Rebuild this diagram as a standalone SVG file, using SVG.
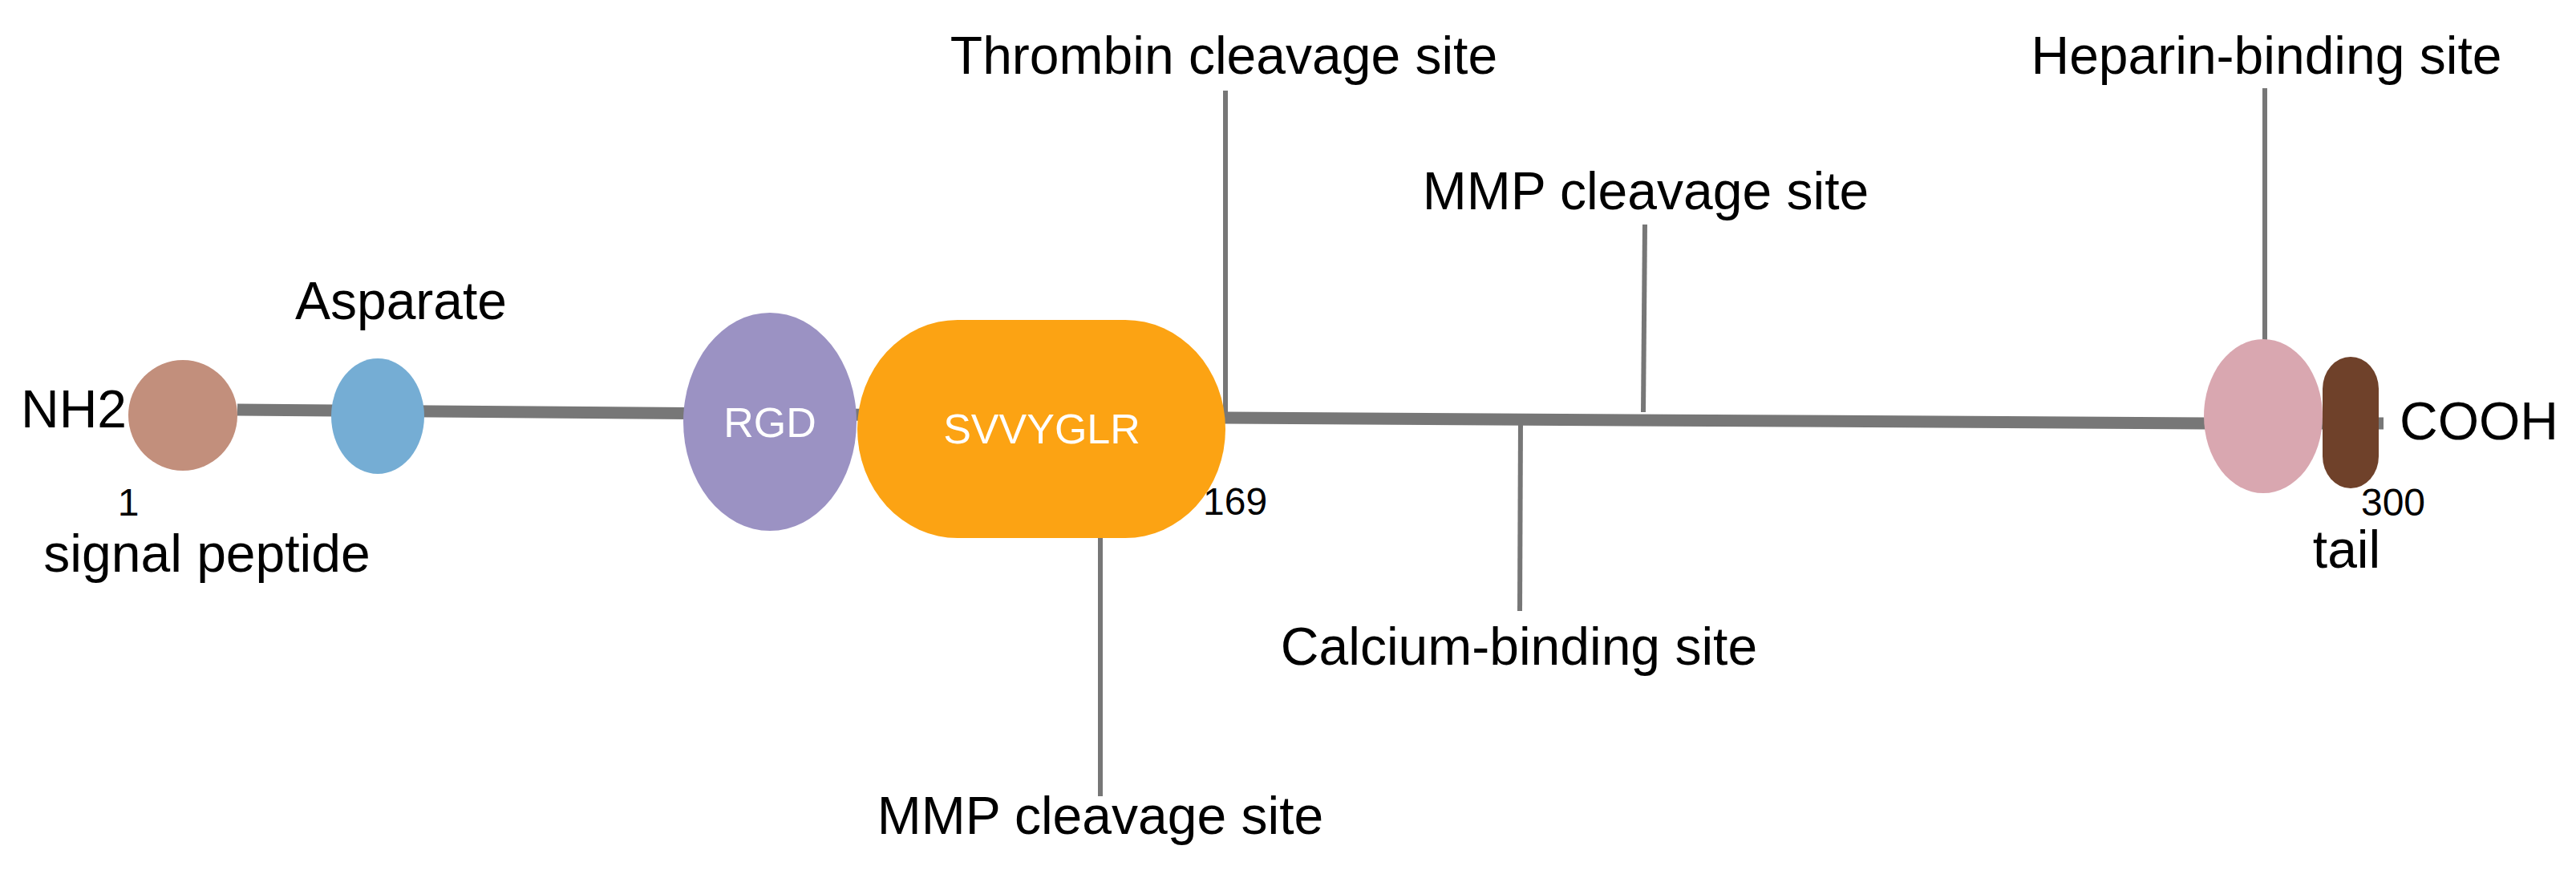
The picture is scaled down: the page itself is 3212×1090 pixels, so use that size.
<svg xmlns="http://www.w3.org/2000/svg" width="3212" height="1090" viewBox="0 0 3212 1090">
<style>
text{font-family:"Liberation Sans",Arial,sans-serif;fill:#000}
.lbl{font-size:66px}
.num{font-size:48px}
.in{font-size:52px;fill:#fff}
.tick{stroke:#777;stroke-width:6;fill:none}
.bb{stroke:#777;stroke-width:15;fill:none}
</style>
<rect width="3212" height="1090" fill="#fff"/>
<g id="connectors">
<polyline class="bb" points="296,511 1528,521 2750,528 2972,528"/>
<line class="tick" x1="1528" y1="113" x2="1528" y2="521"/>
<line class="tick" x1="2051" y1="280" x2="2049" y2="514"/>
<line class="tick" x1="1896" y1="526" x2="1895" y2="762"/>
<line class="tick" x1="1372" y1="671" x2="1372" y2="993"/>
<line class="tick" x1="2824" y1="110" x2="2824" y2="425"/>
</g>
<g id="signal"><ellipse cx="228" cy="518" rx="68" ry="69" fill="#c28f7c"/>
<text class="lbl" x="26" y="533">NH2</text>
<text class="num" x="160" y="643" text-anchor="middle">1</text>
<text class="lbl" x="258" y="713" text-anchor="middle">signal peptide</text></g>
<g id="asparate"><ellipse cx="471" cy="519" rx="58" ry="72" fill="#75add4"/>
<text class="lbl" x="500" y="398" text-anchor="middle">Asparate</text></g>
<g id="rgd"><ellipse cx="960" cy="526" rx="108" ry="136" fill="#9b92c3"/>
<text class="in" x="960" y="545" text-anchor="middle">RGD</text></g>
<g id="svvyglr"><rect x="1069" y="399" width="459" height="272" rx="125" ry="150" fill="#fca313"/>
<text class="in" x="1299" y="553" text-anchor="middle">SVVYGLR</text>
<text class="num" x="1500" y="642">169</text></g>
<g id="thrombin"><text class="lbl" x="1526" y="92" text-anchor="middle">Thrombin cleavage site</text></g>
<g id="mmp-top"><text class="lbl" x="2052" y="261" text-anchor="middle">MMP cleavage site</text></g>
<g id="calcium"><text class="lbl" x="1894" y="829" text-anchor="middle">Calcium-binding site</text></g>
<g id="mmp-bottom"><text class="lbl" x="1372" y="1040" text-anchor="middle">MMP cleavage site</text></g>
<g id="heparin"><ellipse cx="2822" cy="519" rx="74" ry="96" fill="#d9a7b0"/>
<text class="lbl" x="2826" y="92" text-anchor="middle">Heparin-binding site</text></g>
<g id="tail"><rect x="2896" y="445" width="70" height="164" rx="35" ry="40" fill="#6f412a"/>
<text class="lbl" x="2992" y="548">COOH</text>
<text class="num" x="2984" y="643" text-anchor="middle">300</text>
<text class="lbl" x="2926" y="708" text-anchor="middle">tail</text></g>
</svg>
